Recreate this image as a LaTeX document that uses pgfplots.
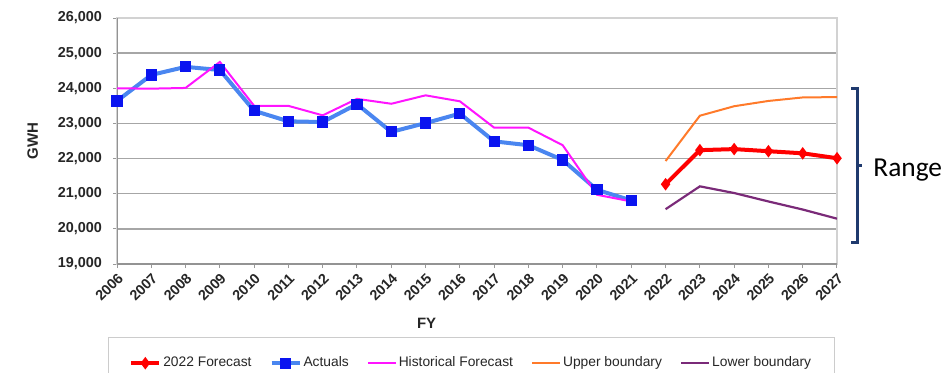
\documentclass[border=0pt]{standalone}
\usepackage{pgfplots}
\pgfplotsset{compat=1.18}
\usepackage{fontspec}
\setmainfont{Liberation Sans}
\newfontfamily\calib{Carlito}
\definecolor{fc}{HTML}{FF0000}
\definecolor{actl}{HTML}{4A86F0}
\definecolor{actm}{HTML}{0A14F0}
\definecolor{histc}{HTML}{FF14FF}
\definecolor{upperc}{HTML}{FF7A2A}
\definecolor{lowerc}{HTML}{7A2A78}
\definecolor{navy}{HTML}{1F3A6E}
\begin{document}
\begin{tikzpicture}
\useasboundingbox (-58.5pt,-54pt) rectangle (414pt,132pt);
\begin{axis}[
  scale only axis, width=360pt, height=123pt,
  xmin=2006, xmax=2027, ymin=19000, ymax=26000,
  scaled y ticks=false, scaled x ticks=false,
  xtick={2006,...,2027},
  xticklabels={2006,2007,2008,2009,2010,2011,2012,2013,2014,2015,2016,2017,2018,2019,2020,2021,2022,2023,2024,2025,2026,2027},
  ytick={19000,20000,...,26000},
  yticklabels={{19,000},{20,000},{21,000},{22,000},{23,000},{24,000},{25,000},{26,000}},
  xtick pos=bottom, ytick pos=left,
  tick align=outside, major tick length=2pt,
  tick style={draw=gray!80, line width=0.5pt},
  ticklabel style={font=\fontsize{7.2}{8}\selectfont\bfseries, text=black!85},
  yticklabel style={xshift=-2pt},
  xticklabel style={rotate=45, anchor=east, xshift=2pt, yshift=-4pt},
  ymajorgrids, grid style={draw=gray!70, line width=0.7pt},
  axis line style={draw=gray!35, line width=0.6pt},
  xlabel={FY}, ylabel={GWH},
  label style={font=\fontsize{7.5}{8}\selectfont\bfseries, text=black!85},
  xlabel style={at={(axis description cs:0.43,-0.24)}, anchor=center},
  ylabel style={at={(axis description cs:-0.117,0.5)}, anchor=center, rotate=0},
  legend columns=5,
  legend style={at={(axis description cs:0.492,-0.297)}, anchor=north,
    draw=gray!40, line width=0.6pt, inner xsep=10.5pt, inner ysep=7.5pt,
    font=\fontsize{6.9}{8}\selectfont, text=black!85,
    nodes={inner xsep=1pt},
    /tikz/every even column/.append style={column sep=8pt}},
  legend image code/.code={\draw[mark repeat=2,mark phase=2,#1] plot coordinates {(0pt,0pt)(7pt,0pt)(14pt,0pt)};},
]
\draw[gray!85, line width=0.6pt] (axis cs:2006,26000) -- (axis cs:2006,19000) -- (axis cs:2027,19000);
\addplot[fc, line width=2pt, mark=diamond*, mark size=1.5pt] coordinates {
 (2022,21270) (2023,22240) (2024,22270) (2025,22210) (2026,22150) (2027,22010)};
\addlegendentry{2022 Forecast}
\addplot[actl, line width=2pt, mark=square*, mark size=1.8pt, mark options={fill=actm, draw=actm}] coordinates {
 (2006,23640) (2007,24380) (2008,24610) (2009,24520) (2010,23360) (2011,23060)
 (2012,23040) (2013,23550) (2014,22760) (2015,23010) (2016,23280) (2017,22490)
 (2018,22380) (2019,21960) (2020,21110) (2021,20810)};
\addlegendentry{Actuals}
\addplot[histc, line width=1pt] coordinates {
 (2006,24000) (2007,23990) (2008,24010) (2009,24750) (2010,23500) (2011,23500)
 (2012,23230) (2013,23700) (2014,23560) (2015,23800) (2016,23630) (2017,22880)
 (2018,22880) (2019,22380) (2020,20970) (2021,20780)};
\addlegendentry{Historical Forecast}
\addplot[upperc, line width=1pt] coordinates {
 (2022,21930) (2023,23220) (2024,23490) (2025,23640) (2026,23740) (2027,23750)};
\addlegendentry{Upper boundary}
\addplot[lowerc, line width=1.1pt] coordinates {
 (2022,20560) (2023,21210) (2024,21020) (2025,20780) (2026,20550) (2027,20290)};
\addlegendentry{Lower boundary}
\end{axis}
\draw[navy, line width=1.5pt] (367pt,88pt) -- (370pt,88pt) -- (370pt,11pt) -- (367pt,11pt);
\draw[navy, line width=1.5pt] (370pt,49.5pt) -- (372.5pt,49.5pt);
\node[anchor=west, inner sep=0pt, font=\calib\fontsize{13.7}{15}\selectfont] at (378pt,47pt) {Range};
\end{tikzpicture}
\end{document}
